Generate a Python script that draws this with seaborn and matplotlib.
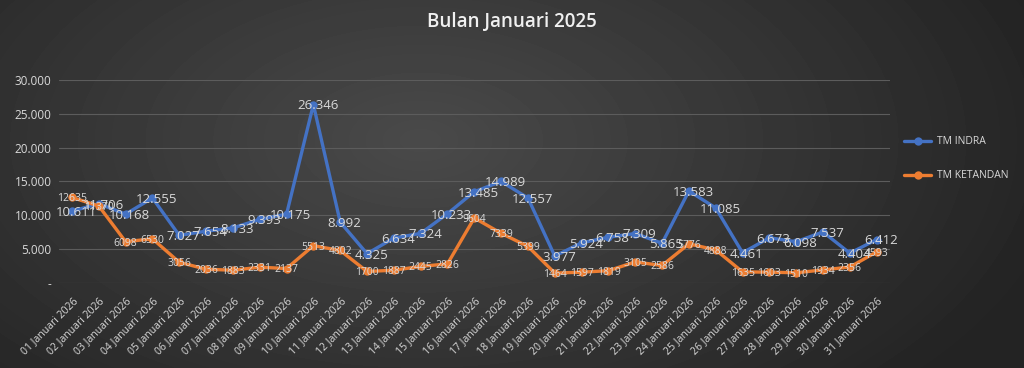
import matplotlib.pyplot as plt
import numpy as np
import pandas as pd
import seaborn as sns

DAYS = [f"{d:02d} Januari 2026" for d in range(1, 32)]
TM_INDRA = [10611, 11706, 10168, 12555, 7027, 7654, 8133, 9393, 10175, 26346,
            8992, 4325, 6634, 7324, 10233, 13485, 14989, 12557, 3977, 5924,
            6758, 7309, 5865, 13583, 11085, 4461, 6673, 6098, 7537, 4404, 6412]
TM_KETANDAN = [12635, 11370, 6098, 6530, 3056, 2036, 1883, 2331, 2137, 5513,
               4802, 1700, 1887, 2445, 2826, 9604, 7339, 5399, 1464, 1597,
               1819, 3105, 2586, 5776, 4888, 1635, 1603, 1510, 1934, 2356, 4593]
SERIES = ["TM INDRA", "TM KETANDAN"]
COLORS = ["#4472C4", "#ED7D31"]
Y_TICKS = [0, 5000, 10000, 15000, 20000, 25000, 30000]


def thousands(v):
    return "-" if v == 0 else f"{v:,.0f}".replace(",", ".")


def main() -> None:
    sns.set_theme(style="dark")
    plt.rcParams["font.family"] = ["Open Sans", "DejaVu Sans"]
    text_color = "#d9d9d9"

    df = pd.DataFrame({
        "day": list(range(len(DAYS))) * 2,
        "value": TM_INDRA + TM_KETANDAN,
        "series": [SERIES[0]] * len(DAYS) + [SERIES[1]] * len(DAYS),
    })

    fig = plt.figure(figsize=(10.24, 3.68), dpi=100)

    # radial dark background
    bg = fig.add_axes([0, 0, 1, 1], zorder=-10)
    yy, xx = np.mgrid[0:368, 0:1024]
    r = np.sqrt(((xx - 420) / 650) ** 2 + ((yy - 140) / 360) ** 2)
    shade = np.clip(0.29 - 0.15 * r, 0.14, 0.29)
    bg.imshow(shade, cmap="gray", vmin=0, vmax=1, aspect="auto")
    bg.axis("off")

    ax = fig.add_axes([0.0572, 0.231, 0.812, 0.552])
    ax.set_facecolor("none")
    sns.lineplot(data=df, x="day", y="value", hue="series", palette=COLORS,
                 marker="o", markersize=6, markeredgewidth=0, linewidth=2.4,
                 ax=ax, legend=True)

    for i, v in enumerate(TM_INDRA):
        ax.annotate(thousands(v), (i, v), xytext=(3, -1), textcoords="offset points",
                    ha="center", va="center", fontsize=9.5, color=text_color)
    for i, v in enumerate(TM_KETANDAN):
        ax.annotate(str(v), (i, v), xytext=(0, -1), textcoords="offset points",
                    ha="center", va="center", fontsize=7.5, color=text_color)

    ax.set_xlim(-0.5, len(DAYS) - 0.5)
    ax.set_ylim(0, 30000)
    ax.set_yticks(Y_TICKS)
    ax.set_yticklabels([thousands(v) for v in Y_TICKS], fontsize=8.5, color=text_color)
    ax.set_xticks(range(len(DAYS)))
    ax.set_xticklabels(DAYS, rotation=45, ha="right", rotation_mode="anchor",
                       fontsize=7.5, color=text_color)
    ax.tick_params(axis="x", length=0, pad=9)
    ax.tick_params(axis="y", length=0, pad=5)
    ax.grid(axis="y", color="#5c5c5c", linewidth=0.8)
    ax.grid(axis="x", visible=False)
    for s in ax.spines.values():
        s.set_visible(False)
    ax.set_xlabel("")
    ax.set_ylabel("")

    handles, labels = ax.get_legend_handles_labels()
    ax.get_legend().remove()
    fig.legend(handles, labels, loc="upper left", bbox_to_anchor=(0.874, 0.655),
               frameon=False, fontsize=7.5, labelcolor=text_color,
               labelspacing=2.2, handlelength=2.6, handletextpad=0.5)

    fig.text(0.5, 0.94, "Bulan Januari 2025", ha="center", va="center",
             fontsize=13.5, fontweight="semibold", color="#f0f0f0")

    fig.savefig("out.png", dpi=100)


if __name__ == "__main__":
    main()
